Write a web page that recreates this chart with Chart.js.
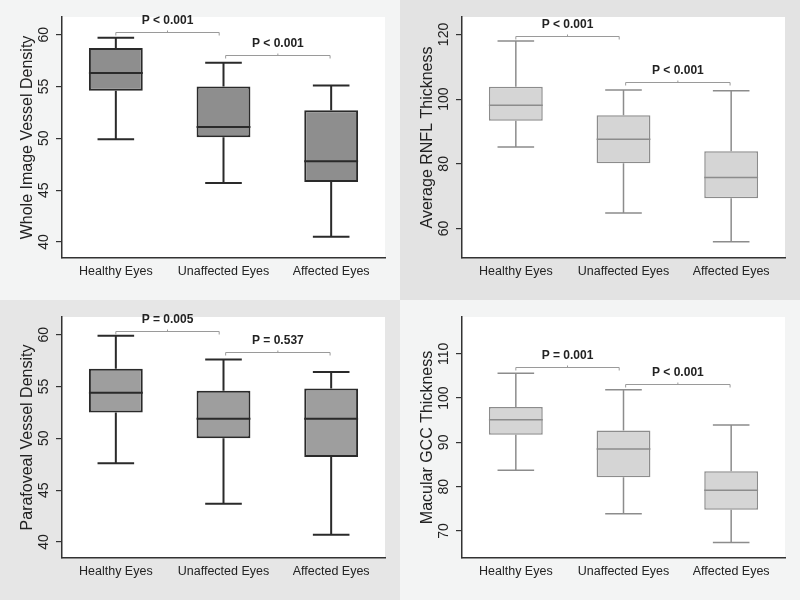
<!DOCTYPE html>
<html lang="en">
<head>
<meta charset="UTF-8">
<title>Vessel density and thickness box plots</title>
<script src="https://cdn.jsdelivr.net/npm/chart.js@4.4.1/dist/chart.umd.min.js"></script>
<style>
    body { margin: 0; width: 800px; height: 600px; position: relative; background: #f3f4f4; }
    .panel { position: absolute; width: 400px; height: 300px; }
    .panel canvas { display: block; }
</style>
</head>
<body>
<div class="panel" style="left:0;top:0;background:#f3f4f4"><canvas id="whole" width="400" height="300"></canvas></div>
<div class="panel" style="left:400px;top:0;background:#e3e3e3"><canvas id="rnfl" width="400" height="300"></canvas></div>
<div class="panel" style="left:0;top:300px;background:#e6e6e6"><canvas id="para" width="400" height="300"></canvas></div>
<div class="panel" style="left:400px;top:300px;background:#f3f4f4"><canvas id="gcc" width="400" height="300"></canvas></div>
<script>
const categories = ['Healthy Eyes', 'Unaffected Eyes', 'Affected Eyes'];

// Whole image vessel density
const wholeMin = [49.9, 45.7, 40.5];
const wholeQ1 = [54.6, 50.1, 45.8];
const wholeMedian = [56.3, 51.1, 47.8];
const wholeQ3 = [58.7, 55.0, 52.7];
const wholeMax = [59.7, 57.3, 55.1];
const wholeTicks = [40, 45, 50, 55, 60];
const wholeP = ['P < 0.001', 'P < 0.001'];
const wholePLevel = [60.25, 58.0];

// Average RNFL thickness
const rnflMin = [85.2, 64.8, 55.9];
const rnflQ1 = [93.3, 80.2, 69.4];
const rnflMedian = [98.1, 87.6, 75.8];
const rnflQ3 = [103.8, 95.0, 83.9];
const rnflMax = [118.0, 102.8, 102.6];
const rnflTicks = [60, 80, 100, 120];
const rnflP = ['P < 0.001', 'P < 0.001'];
const rnflPLevel = [119.6, 105.3];

// Parafoveal vessel density
const paraMin = [47.6, 43.7, 40.7];
const paraQ1 = [52.5, 50.0, 48.2];
const paraMedian = [54.4, 51.9, 51.9];
const paraQ3 = [56.7, 54.6, 54.8];
const paraMax = [59.9, 57.6, 56.4];
const paraTicks = [40, 45, 50, 55, 60];
const paraP = ['P = 0.005', 'P = 0.537'];
const paraPLevel = [60.35, 58.3];

// Macular GCC thickness
const gccMin = [83.7, 73.9, 67.4];
const gccQ1 = [91.7, 82.1, 74.8];
const gccMedian = [95.1, 88.5, 79.2];
const gccQ3 = [98.0, 92.7, 83.5];
const gccMax = [105.6, 101.9, 93.9];
const gccTicks = [70, 80, 90, 100, 110];
const gccP = ['P = 0.001', 'P < 0.001'];
const gccPLevel = [107.0, 103.2];

const FONT = "'Liberation Sans', Arial, sans-serif";
// bracket spans in category units
const bracketSpans = [[0, 0.96], [1.02, 1.99]];

// draws whiskers, medians, rotated y labels and p-value brackets
const boxExtras = {
    id: 'boxExtras',
    beforeDraw(chart) {
        const a = chart.chartArea, ctx = chart.ctx;
        ctx.save();
        ctx.fillStyle = '#ffffff';
        ctx.fillRect(a.left, a.top, a.right - a.left, a.bottom - a.top);
        ctx.restore();
    },
    afterDatasetsDraw(chart, args, opts) {
        const ctx = chart.ctx;
        const y = chart.scales.y;
        const bars = chart.getDatasetMeta(0).data;
        ctx.save();
        ctx.strokeStyle = opts.stroke;
        ctx.lineWidth = opts.lineWidth;
        bars.forEach((bar, i) => {
            const half = bar.width / 2;
            const cap = bar.width * 0.34;
            const yMin = y.getPixelForValue(opts.min[i]);
            const yMax = y.getPixelForValue(opts.max[i]);
            const yQ1 = y.getPixelForValue(opts.q1[i]);
            const yQ3 = y.getPixelForValue(opts.q3[i]);
            const yMed = y.getPixelForValue(opts.median[i]);
            ctx.beginPath();
            ctx.moveTo(bar.x, yQ3); ctx.lineTo(bar.x, yMax);
            ctx.moveTo(bar.x - cap, yMax); ctx.lineTo(bar.x + cap, yMax);
            ctx.moveTo(bar.x, yQ1); ctx.lineTo(bar.x, yMin);
            ctx.moveTo(bar.x - cap, yMin); ctx.lineTo(bar.x + cap, yMin);
            ctx.moveTo(bar.x - half, yMed); ctx.lineTo(bar.x + half, yMed);
            ctx.stroke();
        });
        ctx.restore();
    },
    afterDraw(chart, args, opts) {
        const ctx = chart.ctx;
        const x = chart.scales.x, y = chart.scales.y;
        ctx.save();
        // rotated y tick labels
        ctx.fillStyle = '#222';
        ctx.font = '14px ' + FONT;
        ctx.textAlign = 'center';
        ctx.textBaseline = 'middle';
        y.ticks.forEach(t => {
            ctx.save();
            ctx.translate(chart.chartArea.left - 18, y.getPixelForValue(t.value));
            ctx.rotate(-Math.PI / 2);
            ctx.fillText(String(t.value), 0, 0);
            ctx.restore();
        });
        // p-value brackets
        ctx.strokeStyle = '#9a9a9a';
        ctx.lineWidth = 1;
        ctx.font = 'bold 12px ' + FONT;
        opts.pLabels.forEach((label, i) => {
            const x0 = x.getPixelForValue(bracketSpans[i][0]);
            const x1 = x.getPixelForValue(bracketSpans[i][1]);
            const yy = Math.round(y.getPixelForValue(opts.pLevels[i])) + 0.5;
            const xm = (x0 + x1) / 2;
            ctx.beginPath();
            ctx.moveTo(x0, yy + 3); ctx.lineTo(x0, yy); ctx.lineTo(x1, yy); ctx.lineTo(x1, yy + 3);
            ctx.moveTo(xm, yy); ctx.lineTo(xm, yy - 2);
            ctx.stroke();
            ctx.fillStyle = '#222';
            ctx.fillText(label, xm, yy - 11.5);
        });
        ctx.restore();
    }
};

function makePanel(id, cfg) {
    new Chart(document.getElementById(id), {
        type: 'bar',
        data: {
            labels: categories,
            datasets: [{
                data: cfg.q1.map((v, i) => [v, cfg.q3[i]]),
                backgroundColor: cfg.fill,
                borderColor: cfg.stroke,
                borderWidth: cfg.lineWidth,
                borderSkipped: false,
                barPercentage: 0.5,
                categoryPercentage: 1.0
            }]
        },
        options: {
            responsive: false,
            animation: false,
            devicePixelRatio: 1,
            layout: { padding: { left: 0, right: 15, top: 17, bottom: 0 } },
            plugins: {
                legend: { display: false },
                tooltip: { enabled: false },
                boxExtras: {
                    min: cfg.min, q1: cfg.q1, median: cfg.median, q3: cfg.q3, max: cfg.max,
                    stroke: cfg.stroke, lineWidth: cfg.lineWidth,
                    pLabels: cfg.pLabels, pLevels: cfg.pLevels
                }
            },
            scales: {
                x: {
                    grid: { display: false, drawTicks: false },
                    border: { display: true, color: '#333', width: 1.5 },
                    ticks: { color: '#222', font: { family: FONT, size: 12.5 }, padding: 6, maxRotation: 0 },
                    afterFit: s => { s.height = 42; }
                },
                y: {
                    min: cfg.range[0],
                    max: cfg.range[1],
                    afterBuildTicks: s => { s.ticks = cfg.ticks.map(v => ({ value: v })); },
                    grid: { drawOnChartArea: false, drawTicks: true, tickLength: 6, color: '#333', lineWidth: 1.2 },
                    border: { display: true, color: '#333', width: 1.5 },
                    ticks: { color: 'rgba(0,0,0,0)', font: { family: FONT, size: 14 } },
                    title: {
                        display: true,
                        text: cfg.title,
                        color: '#222',
                        font: { family: FONT, size: 16 },
                        padding: { top: 18, bottom: 0 }
                    },
                    afterFit: s => { s.width = 62; }
                }
            }
        },
        plugins: [boxExtras]
    });
}

const darkStyle = { fill: '#8e8e8e', stroke: '#2a2a2a', lineWidth: 2 };
const lightStyle = { fill: '#d5d5d5', stroke: '#8c8c8c', lineWidth: 1.5 };

makePanel('whole', Object.assign({
    title: 'Whole Image Vessel Density', range: [38.46, 61.7], ticks: wholeTicks,
    min: wholeMin, q1: wholeQ1, median: wholeMedian, q3: wholeQ3, max: wholeMax,
    pLabels: wholeP, pLevels: wholePLevel
}, darkStyle));

makePanel('rnfl', Object.assign({
    title: 'Average RNFL Thickness', range: [50.9, 125.4], ticks: rnflTicks,
    min: rnflMin, q1: rnflQ1, median: rnflMedian, q3: rnflQ3, max: rnflMax,
    pLabels: rnflP, pLevels: rnflPLevel
}, lightStyle));

makePanel('para', Object.assign({
    title: 'Parafoveal Vessel Density', range: [38.46, 61.7], ticks: paraTicks,
    min: paraMin, q1: paraQ1, median: paraMedian, q3: paraQ3, max: paraMax,
    pLabels: paraP, pLevels: paraPLevel
}, darkStyle, { fill: '#9e9e9e' }));

makePanel('gcc', Object.assign({
    title: 'Macular GCC Thickness', range: [63.9, 118.3], ticks: gccTicks,
    min: gccMin, q1: gccQ1, median: gccMedian, q3: gccQ3, max: gccMax,
    pLabels: gccP, pLevels: gccPLevel
}, lightStyle));
</script>
</body>
</html>
